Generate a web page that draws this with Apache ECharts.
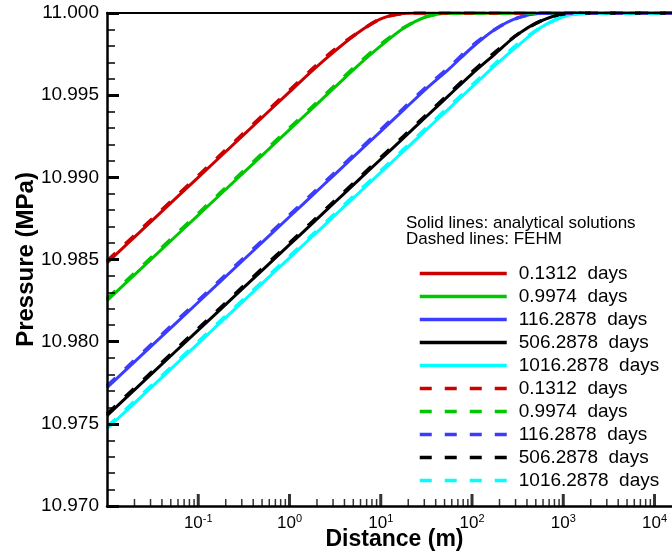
<!DOCTYPE html>
<html>
<head>
<meta charset="utf-8">
<script src="https://cdn.jsdelivr.net/npm/echarts@6/dist/echarts.min.js"></script>
<style>
  html, body { margin: 0; padding: 0; background: #fff; }
  #chart { width: 672px; height: 554px; }
</style>
</head>
<body>
<div id="chart"></div>
<script>
// distance (m), shared by every curve
var distance = [0.01, 0.0316, 0.1, 0.316, 1, 1.78, 3.16, 5.62, 10, 17.8, 31.6, 56.2, 100, 178, 316, 562, 1000, 1780, 3160, 10000, 20000];

// analytical solutions (MPa)
var anaT1 = [10.9848, 10.9874, 10.9900, 10.9926, 10.9952, 10.9965, 10.9977, 10.9988, 10.99964, 10.99997, 11, 11, 11, 11, 11, 11, 11, 11, 11, 11, 11];
var anaT2 = [10.9825, 10.9851, 10.9877, 10.9903, 10.9929, 10.9942, 10.9955, 10.9968, 10.9980, 10.99907, 10.99977, 10.99999, 11, 11, 11, 11, 11, 11, 11, 11, 11];
var anaT3 = [10.9772, 10.9798, 10.9824, 10.9850, 10.9876, 10.9889, 10.9902, 10.9915, 10.9928, 10.9941, 10.9954, 10.9966, 10.9979, 10.9990, 10.9997, 10.99998, 11, 11, 11, 11, 11];
var anaT4 = [10.9755, 10.9781, 10.9807, 10.9833, 10.9859, 10.9872, 10.9885, 10.9898, 10.9911, 10.9924, 10.9937, 10.9950, 10.9963, 10.9975, 10.9987, 10.9995, 10.99994, 11, 11, 11, 11];
var anaT5 = [10.9747, 10.9773, 10.9799, 10.9825, 10.9851, 10.9864, 10.9877, 10.9890, 10.9903, 10.9916, 10.9929, 10.9942, 10.9955, 10.9968, 10.9980, 10.9991, 10.99977, 10.99999, 11, 11, 11];

// FEHM results (MPa)
var fehmT1 = [10.9849, 10.9875, 10.9901, 10.9927, 10.9953, 10.9966, 10.9978, 10.9988, 10.99965, 10.99997, 11, 11, 11, 11, 11, 11, 11, 11, 11, 11, 11];
var fehmT2 = [10.9826, 10.9852, 10.9878, 10.9904, 10.9930, 10.9943, 10.9956, 10.9969, 10.9981, 10.9991, 10.99978, 10.99999, 11, 11, 11, 11, 11, 11, 11, 11, 11];
var fehmT3 = [10.9773, 10.9799, 10.9825, 10.9851, 10.9877, 10.9890, 10.9903, 10.9916, 10.9929, 10.9942, 10.9955, 10.9967, 10.9980, 10.9990, 10.9997, 10.99998, 11, 11, 11, 11, 11];
var fehmT4 = [10.9756, 10.9782, 10.9808, 10.9834, 10.9860, 10.9873, 10.9886, 10.9899, 10.9912, 10.9925, 10.9938, 10.9951, 10.9964, 10.9976, 10.9987, 10.9995, 10.99994, 11, 11, 11, 11];
var fehmT5 = [10.9748, 10.9774, 10.9800, 10.9826, 10.9852, 10.9865, 10.9878, 10.9891, 10.9904, 10.9917, 10.9930, 10.9943, 10.9956, 10.9969, 10.9981, 10.9991, 10.99977, 10.99999, 11, 11, 11];

var timeLabels = ['0.1312  days', '0.9974  days', '116.2878  days', '506.2878  days', '1016.2878  days'];
var colors = ['#cc0000', '#00c800', '#3c3cff', '#000000', '#00ffff'];

var majorTicks = [0.1, 1, 10, 100, 1000, 10000];
var minorTicks = [];
[0.01, 0.1, 1, 10, 100, 1000, 10000].forEach(function (d) {
  for (var k = 2; k <= 9; k++) minorTicks.push(+(k * d).toPrecision(3));
});

var font = 'Liberation Sans, Arial, sans-serif';
var chart = echarts.init(document.getElementById('chart'));

function pairs(ys) {
  return distance.map(function (x, i) { return [x, ys[i]]; });
}

var anaData = [anaT1, anaT2, anaT3, anaT4, anaT5];
var fehmData = [fehmT1, fehmT2, fehmT3, fehmT4, fehmT5];
var series = [];
anaData.forEach(function (ys, i) {
  series.push({
    name: timeLabels[i],
    type: 'line',
    data: pairs(ys),
    symbol: 'none',
    smooth: 0.3,
    color: colors[i],
    lineStyle: { width: 3, color: colors[i] },
    z: 2
  });
});
fehmData.forEach(function (ys, i) {
  series.push({
    // trailing space keeps the legend entry separate from the solid one
    name: timeLabels[i] + ' ',
    type: 'line',
    data: pairs(ys),
    symbol: 'none',
    smooth: 0.3,
    color: colors[i],
    lineStyle: { width: 3.5, color: colors[i], type: [12, 13] },
    z: 3
  });
});
// x axis ticks (log decades + minor)
series.push({
  type: 'scatter', silent: true, symbol: 'rect',
  symbolSize: [3, 12], symbolOffset: [0, -6],
  itemStyle: { color: '#000' }, z: 6,
  data: majorTicks.map(function (v) { return [v, 10.970]; })
});
series.push({
  type: 'scatter', silent: true, symbol: 'rect',
  symbolSize: [1.5, 7], symbolOffset: [0, -3.5],
  itemStyle: { color: '#000' }, z: 6,
  data: minorTicks.map(function (v) { return [v, 10.970]; })
});

chart.setOption({
  animation: false,
  backgroundColor: '#fff',
  textStyle: { fontFamily: font },
  title: {
    text: 'Solid lines: analytical solutions\nDashed lines: FEHM',
    left: 406, top: 215, padding: 0,
    textStyle: { fontFamily: font, fontSize: 17, fontWeight: 'normal', color: '#000', lineHeight: 16 }
  },
  legend: {
    orient: 'vertical',
    left: 418, top: 264, padding: 0,
    itemWidth: 87, itemHeight: 14, itemGap: 4,
    selectedMode: false,
    itemStyle: { opacity: 0 },
    lineStyle: { width: 3.5 },
    data: series.slice(0, 10).map(function (s) { return s.name; }),
    textStyle: { fontFamily: font, fontSize: 19, color: '#000', lineHeight: 19, padding: [0, 0, 0, 7] }
  },
  grid: { left: 107, top: 13, width: 575, height: 493, outerBoundsMode: 'none' },
  xAxis: [{
    type: 'log', logBase: 10, min: 0.01, max: 20000,
    name: 'Distance (m)', nameLocation: 'middle', nameGap: 22, nameMoveOverlap: false,
    nameTextStyle: { fontFamily: font, fontSize: 23, fontWeight: 'bold', color: '#000' },
    axisLine: { lineStyle: { color: '#000', width: 2.5 } },
    axisTick: { show: false },
    splitLine: { show: false },
    axisLabel: {
      margin: 7, color: '#000', showMinLabel: false, showMaxLabel: false,
      formatter: function (v) {
        var e = Math.round(Math.log10(v));
        if (Math.abs(Math.log10(v) - e) > 1e-6 || e < -1 || e > 4) return '';
        return '{b|10}{s|' + e + '}';
      },
      rich: {
        b: { fontFamily: font, fontSize: 17, color: '#000' },
        s: { fontFamily: font, fontSize: 11, color: '#000', padding: [0, 0, 10, 0] }
      }
    },
    z: 5
  }, {
    type: 'log', logBase: 10, min: 0.01, max: 20000, position: 'top',
    axisLine: { lineStyle: { color: '#000', width: 2 } },
    axisTick: { show: false }, axisLabel: { show: false }, splitLine: { show: false },
    z: 5
  }],
  yAxis: {
    type: 'value', min: 10.970, max: 11.000, interval: 0.005,
    name: 'Pressure (MPa)', nameLocation: 'middle', nameGap: 69, nameMoveOverlap: false,
    nameTextStyle: { fontFamily: font, fontSize: 24, fontWeight: 'bold', color: '#000' },
    axisLine: { show: true, lineStyle: { color: '#000', width: 2.5 } },
    axisTick: { inside: true, length: 12, lineStyle: { color: '#000', width: 3 } },
    minorTick: { show: true, splitNumber: 5, length: 8, lineStyle: { color: '#000', width: 1.5 } },
    splitLine: { show: false },
    axisLabel: {
      margin: 8, color: '#000', fontFamily: font, fontSize: 19,
      formatter: function (v) { return v.toFixed(3); }
    },
    z: 5
  },
  series: series
});
</script>
</body>
</html>
